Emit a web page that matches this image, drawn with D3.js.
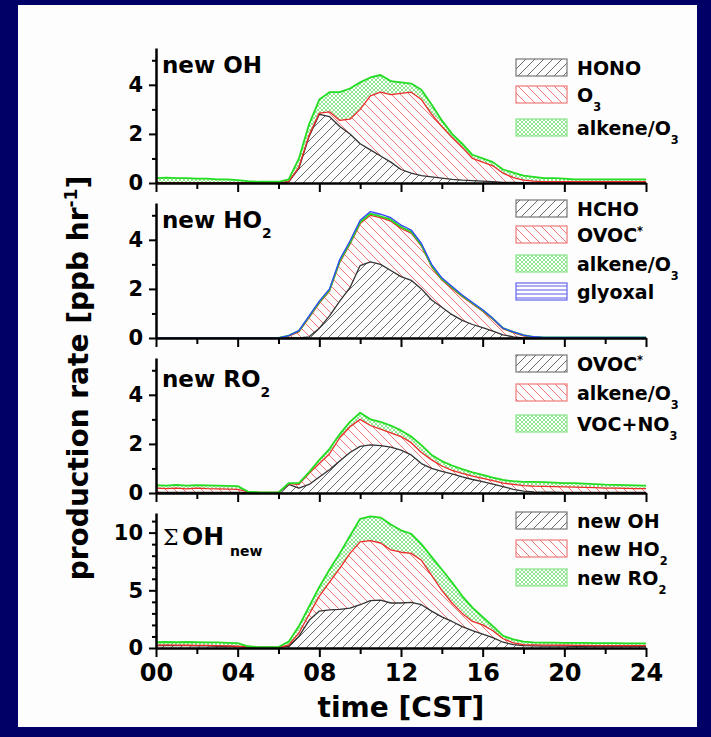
<!DOCTYPE html>
<html><head><meta charset="utf-8">
<script src="https://cdn.jsdelivr.net/npm/d3@7"></script>
<style>
html,body{margin:0;padding:0;background:#000066;}
svg{display:block;}
text{font-family:"DejaVu Sans",sans-serif;font-weight:bold;fill:#000;}
</style></head><body>
<svg id="chart" width="711" height="737"></svg>
<script>
// ---------- DATA ----------
const hours = [0,0.5,1,1.5,2,2.5,3,3.5,4,4.5,5,5.5,6,6.5,7,7.5,8,8.5,9,9.5,10,10.5,11,11.5,12,12.5,13,13.5,14,14.5,15,15.5,16,16.5,17,17.5,18,18.5,19,19.5,20,20.5,21,21.5,22,22.5,23,23.5,24];

// new OH
const ohHONO   = [0,0,0,0,0,0,0,0,0,0,0,0,0,0.05,0.6,1.9,2.8,2.7,2.3,2.0,1.6,1.35,1.1,0.85,0.55,0.4,0.3,0.25,0.2,0.15,0.12,0.1,0.08,0.05,0.02,0.02,0.01,0,0,0,0,0,0,0,0,0,0,0,0];
const ohO3     = [0,0,0,0,0,0,0,0,0,0,0,0,0,0.01,0.05,0.05,0.05,0.2,0.25,0.6,1.4,2.2,2.6,2.75,3.1,3.3,3.1,2.55,2.1,1.7,1.33,0.9,0.77,0.65,0.38,0.2,0.11,0.08,0.05,0.05,0.05,0.05,0.05,0.05,0.05,0.05,0.05,0.05,0.05];
const ohAlkene = [0.2,0.22,0.2,0.2,0.18,0.18,0.15,0.15,0.12,0.08,0.05,0.05,0.05,0.09,0.35,0.45,0.55,0.8,1.15,1.25,1.1,0.75,0.7,0.55,0.45,0.35,0.4,0.4,0.25,0.15,0.15,0.15,0.15,0.15,0.15,0.2,0.18,0.17,0.15,0.15,0.13,0.1,0.1,0.1,0.1,0.1,0.1,0.1,0.1];

// new HO2
const ho2HCHO    = [0,0,0,0,0,0,0,0,0,0,0,0,0,0,0,0.05,0.4,0.9,1.5,2.05,2.95,3.1,3.0,2.75,2.5,2.35,2.0,1.55,1.25,0.95,0.72,0.55,0.42,0.28,0.13,0.05,0,0,0,0,0,0,0,0,0,0,0,0,0];
const ho2OVOC    = [0,0,0,0,0,0,0,0,0,0,0,0,0,0.08,0.25,0.78,1.02,1.01,1.58,1.77,1.71,1.9,1.9,2.01,1.96,1.92,1.74,1.35,1.11,1.07,0.96,0.84,0.67,0.48,0.24,0.17,0.09,0.03,0.01,0.01,0.01,0.01,0.01,0.01,0.01,0.01,0.01,0.01,0.01];
const ho2Alkene  = [0,0,0,0,0,0,0,0,0,0,0,0,0,0.02,0.04,0.05,0.05,0.05,0.06,0.06,0.06,0.06,0.06,0.06,0.06,0.06,0.05,0.05,0.05,0.05,0.04,0.04,0.04,0.03,0.03,0.03,0.03,0.02,0.01,0.01,0.01,0.01,0.01,0.01,0.01,0.01,0.01,0.01,0.01];
const ho2Glyoxal = [0,0,0,0,0,0,0,0,0,0,0,0,0,0,0.01,0.02,0.03,0.04,0.06,0.07,0.08,0.09,0.09,0.08,0.08,0.07,0.06,0.05,0.04,0.03,0.03,0.02,0.02,0.01,0,0,0,0,0,0,0,0,0,0,0,0,0,0,0];

// new RO2
const ro2OVOC   = [0.02,0.02,0.02,0.02,0.02,0.02,0.02,0.02,0.02,0.01,0,0,0,0.35,0.2,0.35,0.65,0.95,1.3,1.65,1.9,1.96,1.93,1.87,1.75,1.55,1.2,1.0,0.88,0.78,0.66,0.55,0.46,0.36,0.26,0.15,0.08,0.04,0.03,0.03,0.02,0.02,0.02,0.02,0.02,0.02,0.02,0.02,0.02];
const ro2Alkene = [0.18,0.16,0.18,0.15,0.18,0.16,0.15,0.14,0.13,0.04,0.03,0.02,0.02,0.03,0.15,0.45,0.55,0.65,0.95,1.05,1.1,0.79,0.67,0.58,0.55,0.5,0.45,0.35,0.22,0.14,0.14,0.14,0.14,0.14,0.14,0.2,0.22,0.24,0.24,0.23,0.23,0.22,0.21,0.2,0.18,0.18,0.17,0.16,0.16];
const ro2VOCNO3 = [0.12,0.12,0.13,0.13,0.12,0.13,0.13,0.13,0.13,0.01,0,0,0,0.02,0.05,0.05,0.15,0.2,0.15,0.2,0.27,0.25,0.3,0.3,0.25,0.25,0.3,0.2,0.2,0.2,0.17,0.15,0.14,0.13,0.13,0.13,0.15,0.17,0.17,0.16,0.15,0.16,0.15,0.14,0.14,0.13,0.13,0.13,0.12];

// sum OH_new
const sumNewOH  = [0.2,0.22,0.2,0.2,0.18,0.18,0.15,0.15,0.12,0.08,0.05,0.05,0.05,0.15,1.0,2.4,3.2,3.3,3.35,3.45,3.75,4.1,4.15,3.9,3.9,3.95,3.75,3.2,2.7,2.3,1.85,1.5,1.2,0.9,0.5,0.3,0.2,0.18,0.17,0.17,0.16,0.15,0.15,0.15,0.15,0.15,0.15,0.15,0.15];
const sumNewHO2 = [0.05,0.03,0.05,0.04,0.04,0.04,0.05,0.03,0.03,0.02,0.01,0.01,0.01,0.1,0.3,0.5,1.3,2.4,3.55,4.75,5.45,5.2,4.95,4.6,4.4,4.25,3.85,3.1,2.3,1.6,1.15,0.8,0.8,0.6,0.3,0.15,0.1,0.09,0.08,0.08,0.08,0.07,0.07,0.05,0.05,0.05,0.05,0.05,0.05];
const sumNewRO2 = [0.25,0.27,0.25,0.28,0.28,0.26,0.28,0.27,0.27,0.05,0.02,0.02,0.02,0.3,0.6,0.7,0.8,1.1,1.3,1.5,2.0,2.1,2.2,2.2,1.9,1.7,1.4,1.6,1.8,1.8,1.5,1.2,0.7,0.4,0.25,0.3,0.25,0.21,0.22,0.21,0.21,0.23,0.22,0.23,0.22,0.22,0.2,0.2,0.2];

const xMajorTicks = [0,4,8,12,16,20,24];
const xMinorTicks = [2,6,10,14,18,22];
const xTickLabels = ["00","04","08","12","16","20","24"];
const yMajorSmall = [0,2,4];
const yMinorSmall = [1,3,5];
const yMajorSum = [0,5,10];
const yMinorSum = [1,2,3,4,6,7,8,9,11];

// legend labels: [text, kind]
const legendOH  = [[["HONO"]], [["O"],["3","sub"]], [["alkene/O"],["3","sub"]]];
const legendHO2 = [[["HCHO"]], [["OVOC"],["*","sup"]], [["alkene/O"],["3","sub"]], [["glyoxal"]]];
const legendRO2 = [[["OVOC"],["*","sup"]], [["alkene/O"],["3","sub"]], [["VOC+NO"],["3","sub"]]];
const legendSum = [[["new OH"]], [["new HO"],["2","sub"]], [["new RO"],["2","sub"]]];

// ---------- DRAWING ----------
const svg = d3.select("#chart");
svg.append("rect").attr("x",0).attr("y",0).attr("width",711).attr("height",737).attr("fill","#000066");
svg.append("rect").attr("x",18).attr("y",5).attr("width",679).attr("height",722).attr("fill","#fdfdfd");

const defs = svg.append("defs");
function pat(id, w, h, d, color, sw){
  const p = defs.append("pattern").attr("id",id).attr("patternUnits","userSpaceOnUse")
    .attr("width",w).attr("height",h);
  p.append("path").attr("d",d).attr("stroke",color).attr("stroke-width",sw).attr("fill","none");
}
pat("pGray",9,9,"M-1,1 L1,-1 M0,9 L9,0 M8,10 L10,8","#6a6a6a",1);
pat("pRed",9,9,"M-1,8 L1,10 M0,0 L9,9 M8,-1 L10,1","#f07878",1);
pat("pGreen",4,4,"M0,0 L4,4 M4,0 L0,4","#85e385",0.9);
pat("pBlue",4,4,"M0,2 L4,2","#5a5aee",1);

const styles = {
  gray:  {fill:"url(#pGray)",  line:"#333333", lw:1.3, border:"#777777"},
  red:   {fill:"url(#pRed)",   line:"#ee2a2a", lw:1.3, border:"#f07a7a"},
  green: {fill:"url(#pGreen)", line:"#22dd22", lw:1.8, border:"#8ae58a"},
  blue:  {fill:"url(#pBlue)",  line:"#3344ff", lw:1.3, border:"#6666ee"}
};

const x = d3.scaleLinear().domain([0,24]).range([156,646]);

const panels = [
  {top:48, bottom:183, yMax:5.5, major:yMajorSmall, minor:yMinorSmall,
   series:[ohHONO, ohO3, ohAlkene], kinds:["gray","red","green"],
   legend:legendOH, legBase:[75,102,135]},
  {top:203, bottom:338, yMax:5.5, major:yMajorSmall, minor:yMinorSmall,
   series:[ho2HCHO, ho2OVOC, ho2Alkene, ho2Glyoxal], kinds:["gray","red","green","blue"],
   legend:legendHO2, legBase:[216,242,271,299]},
  {top:358, bottom:493, yMax:5.5, major:yMajorSmall, minor:yMinorSmall,
   series:[ro2OVOC, ro2Alkene, ro2VOCNO3], kinds:["gray","red","green"],
   legend:legendRO2, legBase:[371,400,431]},
  {top:513, bottom:648, yMax:11.7, major:yMajorSum, minor:yMinorSum,
   series:[sumNewOH, sumNewHO2, sumNewRO2], kinds:["gray","red","green"],
   legend:legendSum, legBase:[528,556,585]}
];

function addParts(textSel, parts, size){
  let shifted = 0;
  parts.forEach(p=>{
    const kind = p[1] || "n";
    const t = textSel.append("tspan").text(p[0]);
    if(kind==="sub"){ t.attr("font-size", size*0.6).attr("dy", size*0.45 - shifted); shifted = size*0.45; }
    else if(kind==="sup"){ t.attr("font-size", size*0.6).attr("dy", -size*0.35 - shifted); shifted = -size*0.35; }
    else { if(shifted){ t.attr("dy", -shifted); shifted = 0; } }
  });
}

panels.forEach((P, pi)=>{
  const y = d3.scaleLinear().domain([0,P.yMax]).range([P.bottom, P.top]);
  const keys = P.series.map((s,i)=>"s"+i);
  const table = hours.map((h,i)=>{
    const row = {h};
    P.series.forEach((s,k)=>row["s"+k]=s[i]);
    return row;
  });
  const stacked = d3.stack().keys(keys)(table);
  const area = d3.area().x(d=>x(d.data.h)).y0(d=>y(d[0])).y1(d=>y(d[1]));
  const line = d3.line().x(d=>x(d.data.h)).y(d=>y(d[1]));
  const g = svg.append("g");
  stacked.forEach((layer,k)=>{
    g.append("path").attr("d",area(layer)).attr("fill",styles[P.kinds[k]].fill).attr("stroke","none");
  });
  stacked.forEach((layer,k)=>{
    const st = styles[P.kinds[k]];
    g.append("path").attr("d",line(layer)).attr("fill","none").attr("stroke",st.line).attr("stroke-width",st.lw).attr("stroke-linejoin","round");
  });

  // axes
  const xMinor = svg.append("g").attr("transform",`translate(0,${P.bottom})`)
    .call(d3.axisBottom(x).tickValues(xMinorTicks).tickSize(6).tickFormat(""));
  xMinor.select(".domain").remove();
  const xMaj = svg.append("g").attr("transform",`translate(0,${P.bottom})`)
    .call(d3.axisBottom(x).tickValues(xMajorTicks).tickSize(9).tickSizeOuter(0).tickPadding(7)
      .tickFormat(pi===3 ? (d,i)=>xTickLabels[i] : ""));
  const yMinor = svg.append("g").attr("transform",`translate(156,0)`)
    .call(d3.axisLeft(y).tickValues(P.minor).tickSize(4).tickFormat(""));
  yMinor.select(".domain").remove();
  const yMaj = svg.append("g").attr("transform",`translate(156,0)`)
    .call(d3.axisLeft(y).tickValues(P.major).tickSize(7).tickSizeOuter(0).tickPadding(6).tickFormat(d=>String(d)));
  [xMinor,xMaj,yMinor,yMaj].forEach(a=>{
    a.attr("font-family",null).attr("font-size",null);
    a.selectAll(".domain").attr("stroke","#000").attr("stroke-width",2.5);
    a.selectAll(".tick line").attr("stroke","#000").attr("stroke-width",2);
  });
  yMaj.selectAll("text").style("font-size","21px").style("font-family","DejaVu Sans").style("font-weight","bold");
  xMaj.selectAll("text").style("font-size","24px").style("font-family","DejaVu Sans").style("font-weight","bold");

  // legend
  P.legend.forEach((parts,k)=>{
    const st = styles[P.kinds[k]];
    const b = P.legBase[k];
    svg.append("rect").attr("x",516).attr("y",b-16).attr("width",51).attr("height",17)
      .attr("fill",st.fill).attr("stroke",st.border).attr("stroke-width",1.2);
    const t = svg.append("text").attr("x",577).attr("y",b).attr("font-size",19);
    addParts(t, parts, 19);
  });
});

// panel labels
function label(xp, yp, parts, size){
  const t = svg.append("text").attr("x",xp).attr("y",yp).attr("font-size",size);
  addParts(t, parts, size);
}
label(162, 73, [["new OH"]], 23);
label(162, 228, [["new HO"],["2","sub"]], 23);
label(162, 387, [["new RO"],["2","sub"]], 23);
svg.append("text").attr("x",163).attr("y",545).attr("font-size",22)
  .style("font-family","DejaVu Serif").style("font-weight","normal").text("Σ");
svg.append("text").attr("x",182).attr("y",545).attr("font-size",25).text("OH");
svg.append("text").attr("x",230).attr("y",556).attr("font-size",14).text("new");

// axis titles
svg.append("text").attr("x",401).attr("y",717).attr("text-anchor","middle").attr("font-size",28).text("time [CST]");
const yt = svg.append("text").attr("transform","translate(88,378) rotate(-90)").attr("text-anchor","middle").attr("font-size",28);
yt.append("tspan").text("production rate [ppb hr");
yt.append("tspan").attr("font-size",17).attr("dy",-11).text("-1");
yt.append("tspan").attr("dy",11).text("]");
</script>
</body></html>
